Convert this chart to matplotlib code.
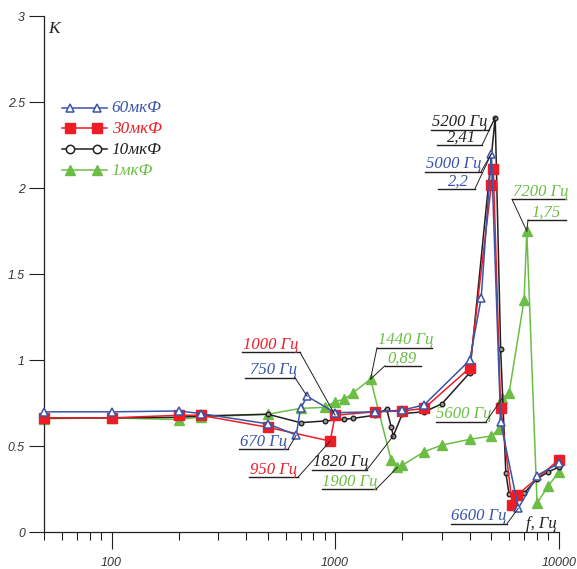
import matplotlib
matplotlib.use("Agg")
import matplotlib.pyplot as plt
from matplotlib import ticker
from matplotlib.transforms import Affine2D
from matplotlib.patches import ConnectionPatch
from matplotlib.lines import Line2D

# values
f60 = [50, 100, 200, 250, 500, 670, 700, 750, 1000, 1500, 2000, 2500, 4000, 4500, 5000, 5500, 6600, 8000, 10000]
k60 = [0.70, 0.70, 0.705, 0.69, 0.63, 0.565, 0.72, 0.79, 0.695, 0.70, 0.71, 0.74, 1.00, 1.36, 2.20, 0.64, 0.14, 0.33, 0.40]

f30 = [50, 100, 200, 250, 500, 950, 1000, 1500, 2000, 2500, 4000, 5000, 5100, 5500, 6200, 6500, 10000]
k30 = [0.665, 0.665, 0.68, 0.68, 0.61, 0.53, 0.68, 0.70, 0.705, 0.72, 0.955, 2.02, 2.11, 0.725, 0.16, 0.215, 0.42]

f10 = [50, 100, 200, 250, 500, 700, 900, 1100, 1200, 1500, 1700, 1780, 1820, 2000, 2500, 3000, 4000,
       5200, 5500, 5800, 6000, 7000, 8000, 9000, 10000]
k10 = [0.665, 0.665, 0.668, 0.676, 0.686, 0.637, 0.647, 0.656, 0.662, 0.68, 0.716, 0.614, 0.56, 0.69, 0.70,
       0.746, 0.927, 2.41, 1.063, 0.346, 0.221, 0.227, 0.31, 0.352, 0.378]

f1 = [50, 100, 200, 250, 500, 700, 900, 1000, 1100, 1200, 1440, 1780, 1900, 2000, 2500, 3000, 4000,
      5000, 5400, 5600, 6000, 7000, 7200, 8000, 9000, 10000]
k1 = [0.66, 0.665, 0.655, 0.67, 0.686, 0.72, 0.726, 0.76, 0.773, 0.81, 0.89, 0.42, 0.378, 0.39, 0.468, 0.507,
      0.54, 0.56, 0.60, 0.78, 0.81, 1.35, 1.75, 0.17, 0.27, 0.35]

series_names = ["60мкФ", "30мкФ", "10мкФ", "1мкФ"]

yticks = [0, 0.5, 1, 1.5, 2, 2.5, 3]
ytick_labels = ["0", "0.5", "1", "1.5", "2", "2.5", "3"]
xticks = [100, 1000, 10000]
xtick_labels = ["100", "1000", "10000"]

BLUE = "#3a55a8"
RED = "#ee1c25"
BLACK = "#231f20"
GREEN = "#6cbd45"

W, H = 577, 569
fig = plt.figure(figsize=(W / 100, H / 100), dpi=100)
ax = fig.add_axes([44.3 / W, 36.7 / H, (558.7 - 44.3) / W, (532.3 - 16) / H])
# pixel coordinates, origin top-left, for labels and leaders
pix = Affine2D().scale(1 / W, -1 / H).translate(0, 1) + fig.transFigure

serif = "Liberation Serif"

styles = {
    "60мкФ": dict(color=BLUE, marker="^", ms=6, mfc="white", mec=BLUE, mew=1.1, zorder=5),
    "30мкФ": dict(color=RED, marker="s", ms=6.5, mfc=RED, mec=RED, zorder=4),
    "10мкФ": dict(color=BLACK, marker="o", ms=3.3, mfc="#999999", mec=BLACK, mew=1.0, zorder=3),
    "1мкФ": dict(color=GREEN, marker="^", ms=6.5, mfc=GREEN, mec=GREEN, zorder=2),
}
data = {"60мкФ": (f60, k60), "30мкФ": (f30, k30), "10мкФ": (f10, k10), "1мкФ": (f1, k1)}

for name in ["1мкФ", "10мкФ", "30мкФ", "60мкФ"]:
    fx, ky = data[name]
    ax.plot(fx, ky, lw=1.1, clip_on=False, **styles[name])

ax.set_xscale("log")
ax.set_xlim(50, 10000)
ax.set_ylim(0, 3)

for s in ["top", "right"]:
    ax.spines[s].set_visible(False)
for s in ["left", "bottom"]:
    ax.spines[s].set_linewidth(0.9)
    ax.spines[s].set_color(BLACK)

ax.xaxis.set_major_locator(ticker.FixedLocator(xticks))
ax.xaxis.set_major_formatter(ticker.FixedFormatter(xtick_labels))
ax.xaxis.set_minor_locator(ticker.LogLocator(base=10, subs=range(2, 10)))
ax.xaxis.set_minor_formatter(ticker.NullFormatter())
ax.set_yticks(yticks)
ax.set_yticklabels(ytick_labels)

ax.tick_params(axis="x", which="major", direction="out", length=12, width=0.8, pad=6,
               labelsize=9, labelcolor="#333333", color=BLACK)
ax.tick_params(axis="x", which="minor", direction="out", length=5.8, width=0.8, color=BLACK)
ax.tick_params(axis="y", direction="out", length=11, width=0.8, pad=3,
               labelsize=8.8, labelcolor="#333333", color=BLACK)
for lbl in ax.get_xticklabels() + ax.get_yticklabels():
    lbl.set_fontstyle("italic")
    lbl.set_fontfamily("Liberation Sans")

# axis captions
fig.text(48, 33, "K", transform=pix, fontsize=12.5, family=serif, style="italic", color=BLACK)
fig.text(526, 528, "f, Гц", transform=pix, fontsize=12, family=serif, style="italic", color=BLACK)

# legend drawn by hand
leg_y = [107.7, 128.3, 149, 170]
for name, yy in zip(series_names, leg_y):
    st = dict(styles[name])
    st.pop("zorder")
    if name == "10мкФ":
        st.update(ms=6, mfc="white", mew=1.1)
    fig.add_artist(Line2D([61.7, 106.7], [yy, yy], transform=pix, lw=1.1, color=st["color"]))
    fig.add_artist(Line2D([70, 96.7], [yy, yy], transform=pix, lw=0, **{k: v for k, v in st.items() if k != "color"}))
    fig.text(111.7, yy + 4.8, name, transform=pix, fontsize=12.3, family=serif, style="italic",
             color=st["color"])

# callouts: text, colour, text x, baseline y, underline x0, x1, leader side, target point
notes = [
    ("1000 Гц", RED, 243, 349, 242, 300, "R", (1000, 0.68)),
    ("750 Гц", BLUE, 250, 374.5, 245, 295, "R", (750, 0.79)),
    ("670 Гц", BLUE, 240, 446, 239, 288, "R", (670, 0.565)),
    ("950 Гц", RED, 250, 474, 249, 298, "R", (950, 0.53)),
    ("1820 Гц", BLACK, 313, 466.5, 312, 367, "R", (1820, 0.56)),
    ("1900 Гц", GREEN, 322, 486, 322, 376, "R", (1900, 0.378)),
    ("1440 Гц", GREEN, 378, 344.5, 377, 432, "L", (1440, 0.89)),
    ("0,89", GREEN, 387, 362.5, 385, 421, "L", (1440, 0.89)),
    ("5200 Гц", BLACK, 432, 126.5, 431, 489, "R", (5200, 2.41)),
    ("2,41", BLACK, 447, 142, 437, 482, "R", (5200, 2.41)),
    ("5000 Гц", BLUE, 426, 168.5, 425, 481, "R", (5000, 2.20)),
    ("2,2", BLUE, 448, 185.5, 438, 475, "R", (5000, 2.20)),
    ("7200 Гц", GREEN, 513, 196, 512, 566, "L", (7200, 1.75)),
    ("1,75", GREEN, 531, 216.5, 528, 566, "L", (7200, 1.75)),
    ("5600 Гц", GREEN, 436, 418.5, 436, 486, "R", (5600, 0.78)),
    ("6600 Гц", BLUE, 451, 520.5, 451, 507, "R", (6600, 0.14)),
]
for txt, col, tx, ty, ux0, ux1, side, target in notes:
    fig.text(tx, ty, txt, transform=pix, fontsize=12, family=serif, style="italic",
             color=col, va="baseline", ha="left")
    uy = ty + 3.2
    fig.add_artist(Line2D([ux0, ux1], [uy, uy], transform=pix, lw=1.0, color=BLACK))
    start = (ux1, uy) if side == "R" else (ux0, uy)
    fig.add_artist(ConnectionPatch(start, target, coordsA=pix, coordsB=ax.transData,
                                   lw=0.7, color=BLACK, zorder=6))

fig.savefig("out.png", dpi=100)
